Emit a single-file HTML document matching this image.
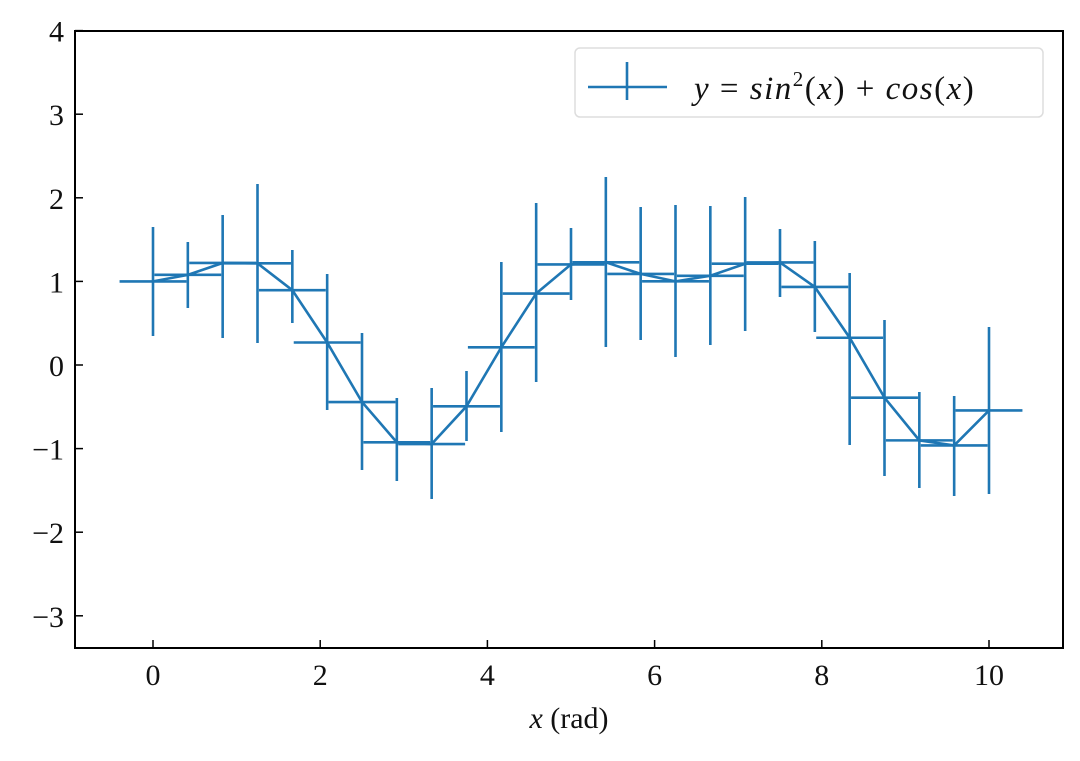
<!DOCTYPE html>
<html><head><meta charset="utf-8"><style>
body{margin:0;background:#fff;}
svg text{font-family:"Liberation Serif",serif;fill:#111;}
</style></head><body>
<svg id="s" width="1080" height="756" xmlns="http://www.w3.org/2000/svg"></svg>
<script>
const s=document.getElementById('s');
const X=x=>153+83.6*x, Y=y=>365-83.6*y;
let h='';
const c='#1f77b4';
const bars=[[227,336],[242,308],[215,338],[184,343],[250,323],[274,410],[333,470],[398,481],[388,499],[371,441],[262,432],[203,382],[228,300],[177,347],[207,340],[205,357],[206,345],[197,331],[229,297],[241,332],[273,445],[320,476],[392,488],[396,496],[327,494]];
let pts=[];
for(let i=0;i<25;i++){const x=10*i/24,y=Math.sin(x)**2+Math.cos(x);pts.push([X(x),Y(y)]);
h+=`<line x1="${X(x-0.4)}" x2="${X(x+0.4)}" y1="${Y(y)}" y2="${Y(y)}" stroke="${c}" stroke-width="2.6"/>`;
h+=`<line x1="${X(x)}" x2="${X(x)}" y1="${bars[i][0]}" y2="${bars[i][1]}" stroke="${c}" stroke-width="2.6"/>`;}
h+=`<polyline points="${pts.map(p=>p.join(',')).join(' ')}" fill="none" stroke="${c}" stroke-width="2.6"/>`;
for(let v=0;v<=10;v+=2){h+=`<line x1="${X(v)}" x2="${X(v)}" y1="648" y2="640" stroke="#000" stroke-width="1.5"/><text x="${X(v)}" y="685" font-size="30" text-anchor="middle">${v}</text>`;}
for(let v=-3;v<=4;v++){h+=`<line x1="75" x2="83" y1="${Y(v)}" y2="${Y(v)}" stroke="#000" stroke-width="1.5"/><text x="64" y="${Y(v)+11}" font-size="30" text-anchor="end">${v<0?'\u2212'+(-v):v}</text>`;}
h+=`<rect x="75" y="31" width="988" height="617" fill="none" stroke="#000" stroke-width="2"/>`;
h+=`<rect x="575" y="48" width="468" height="69" rx="5" fill="#fff" fill-opacity="0.8" stroke="#ddd" stroke-width="1.5"/>`;
h+=`<line x1="588" x2="667" y1="87" y2="87" stroke="${c}" stroke-width="2.6"/><line x1="627" x2="627" y1="62" y2="100" stroke="${c}" stroke-width="2.6"/>`;
h+=`<text x="694" y="99" font-size="33" font-style="italic" letter-spacing="1.5">y <tspan font-style="normal">=</tspan> sin<tspan font-size="21" dy="-13" font-style="normal">2</tspan><tspan dy="13" font-style="normal">(</tspan>x<tspan font-style="normal">) + </tspan>cos<tspan font-style="normal">(</tspan>x<tspan font-style="normal">)</tspan></text>`;
h+=`<text x="569" y="728" font-size="30" text-anchor="middle"><tspan font-style="italic">x</tspan> (rad)</text>`;
s.innerHTML=h;
</script>
</body></html>
